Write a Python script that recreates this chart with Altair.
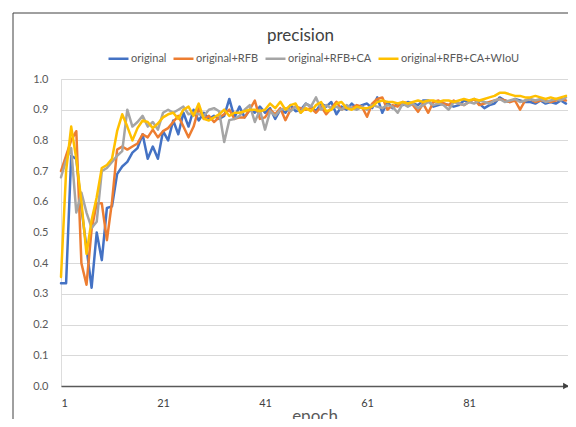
import altair as alt
import pandas as pd

epochs = list(range(1, 101))

series_names = ["original", "original+RFB", "original+RFB+CA", "original+RFB+CA+WIoU"]
series_colors = ["#4472C4", "#ED7D31", "#A5A5A5", "#FFC000"]

original = [
    0.335, 0.335, 0.75, 0.74, 0.58, 0.45, 0.32, 0.50, 0.41, 0.58,
    0.585, 0.69, 0.715, 0.73, 0.76, 0.775, 0.82, 0.74, 0.78, 0.74,
    0.83, 0.80, 0.865, 0.82, 0.89, 0.845, 0.90, 0.865, 0.89, 0.87,
    0.88, 0.87, 0.88, 0.935, 0.875, 0.91, 0.875, 0.90, 0.89, 0.91,
    0.89, 0.905, 0.87, 0.90, 0.89, 0.915, 0.895, 0.90, 0.92, 0.91,
    0.895, 0.92, 0.91, 0.925, 0.885, 0.91, 0.90, 0.92, 0.905, 0.915,
    0.92, 0.905, 0.94, 0.89, 0.925, 0.905, 0.92, 0.915, 0.925, 0.92,
    0.915, 0.93, 0.93, 0.91, 0.915, 0.92, 0.915, 0.91, 0.915, 0.93,
    0.925, 0.935, 0.92, 0.905, 0.915, 0.92, 0.94, 0.93, 0.925, 0.935,
    0.93, 0.925, 0.925, 0.92, 0.93, 0.92, 0.925, 0.92, 0.93, 0.92,
]

rfb = [
    0.70, 0.75, 0.80, 0.83, 0.40, 0.33, 0.51, 0.595, 0.595, 0.475,
    0.60, 0.77, 0.78, 0.77, 0.78, 0.79, 0.82, 0.81, 0.835, 0.81,
    0.83, 0.84, 0.86, 0.88, 0.845, 0.81, 0.845, 0.905, 0.87, 0.88,
    0.86, 0.875, 0.885, 0.90, 0.87, 0.875, 0.875, 0.90, 0.93, 0.87,
    0.875, 0.90, 0.885, 0.905, 0.866, 0.90, 0.91, 0.905, 0.90, 0.905,
    0.89, 0.91, 0.885, 0.905, 0.926, 0.90, 0.91, 0.905, 0.915, 0.91,
    0.877, 0.92, 0.935, 0.94, 0.90, 0.915, 0.91, 0.925, 0.92, 0.915,
    0.893, 0.92, 0.89, 0.925, 0.93, 0.92, 0.915, 0.93, 0.92, 0.915,
    0.925, 0.935, 0.915, 0.92, 0.925, 0.93, 0.935, 0.93, 0.925, 0.93,
    0.90, 0.93, 0.935, 0.925, 0.93, 0.93, 0.925, 0.93, 0.935, 0.93,
]

rfb_ca = [
    0.68, 0.735, 0.775, 0.565, 0.63, 0.565, 0.515, 0.535, 0.70, 0.71,
    0.73, 0.75, 0.765, 0.90, 0.845, 0.86, 0.88, 0.845, 0.86, 0.835,
    0.89, 0.90, 0.89, 0.90, 0.91, 0.885, 0.89, 0.885, 0.88, 0.90,
    0.905, 0.895, 0.795, 0.866, 0.87, 0.88, 0.90, 0.915, 0.86, 0.90,
    0.835, 0.895, 0.88, 0.90, 0.905, 0.895, 0.91, 0.89, 0.92, 0.91,
    0.94, 0.90, 0.915, 0.905, 0.91, 0.90, 0.915, 0.905, 0.90, 0.91,
    0.90, 0.915, 0.91, 0.905, 0.915, 0.91, 0.89, 0.92, 0.91, 0.92,
    0.905, 0.915, 0.925, 0.915, 0.92, 0.915, 0.90, 0.925, 0.92, 0.915,
    0.925, 0.92, 0.93, 0.925, 0.92, 0.93, 0.935, 0.925, 0.93, 0.935,
    0.925, 0.93, 0.935, 0.93, 0.935, 0.925, 0.93, 0.935, 0.93, 0.94,
]

rfb_ca_wiou = [
    0.355, 0.70, 0.845, 0.74, 0.60, 0.43, 0.54, 0.615, 0.71, 0.72,
    0.74, 0.83, 0.885, 0.845, 0.80, 0.84, 0.865, 0.86, 0.84, 0.855,
    0.875, 0.885, 0.89, 0.87, 0.90, 0.91, 0.88, 0.92, 0.87, 0.865,
    0.875, 0.885, 0.90, 0.88, 0.89, 0.89, 0.895, 0.90, 0.90, 0.895,
    0.90, 0.92, 0.905, 0.926, 0.90, 0.915, 0.92, 0.89, 0.905, 0.895,
    0.915, 0.925, 0.895, 0.90, 0.92, 0.925, 0.905, 0.90, 0.91, 0.905,
    0.905, 0.91, 0.925, 0.93, 0.925, 0.925, 0.92, 0.925, 0.92, 0.925,
    0.93, 0.925, 0.93, 0.93, 0.925, 0.93, 0.93, 0.925, 0.93, 0.935,
    0.93, 0.935, 0.93, 0.935, 0.94, 0.945, 0.955, 0.955, 0.95, 0.945,
    0.945, 0.94, 0.94, 0.945, 0.94, 0.935, 0.94, 0.935, 0.94, 0.945,
]

x_ticks = [1, 21, 41, 61, 81]
y_ticks = [0.0, 0.1, 0.2, 0.3, 0.4, 0.5, 0.6, 0.7, 0.8, 0.9, 1.0]

all_values = [original, rfb, rfb_ca, rfb_ca_wiou]
rows = []
for name, vals in zip(series_names, all_values):
    for e, v in zip(epochs, vals):
        rows.append({"epoch": e, "precision": v, "series": name})
df = pd.DataFrame(rows)

FONT = "Lato"
W, H = 507, 307

xs = alt.X("epoch:Q", scale=alt.Scale(domain=[1, 100.4], nice=False, zero=False),
           axis=alt.Axis(values=x_ticks, title="epoch", grid=False, ticks=False,
                         labelPadding=11, titlePadding=0, labelFontSize=11,
                         labelColor="#404040", titleFontSize=17, titleColor="#595959",
                         titleFontWeight="normal", domainColor="#595959", domainWidth=1.5,
                         labelFont=FONT, titleFont=FONT))
ys = alt.Y("precision:Q", scale=alt.Scale(domain=[0, 1.0], nice=False),
           axis=alt.Axis(values=y_ticks, format=".1f", title=None, domain=False,
                         ticks=False, labelPadding=13, labelFontSize=11,
                         labelColor="#595959", gridColor="#D9D9D9", gridWidth=1,
                         labelFont=FONT))
color = alt.Color("series:N",
                  scale=alt.Scale(domain=series_names, range=series_colors),
                  legend=alt.Legend(title=None, orient="none", direction="horizontal",
                                    legendX=46, legendY=-32, symbolType="stroke",
                                    symbolSize=400, symbolStrokeWidth=2.5,
                                    labelFontSize=11, labelColor="#595959",
                                    labelFont=FONT, columnPadding=1, labelOffset=1,
                                    padding=0))

layers = []
for name in series_names:
    layers.append(
        alt.Chart(df).transform_filter(alt.datum.series == name)
        .mark_line(strokeWidth=2.5, strokeJoin="round", strokeCap="round", clip=False)
        .encode(x=xs, y=ys, color=color)
    )

one = alt.Data(values=[{"a": 1}])
arrow = alt.Chart(one).mark_point(shape="triangle-right", filled=True, size=45,
                                  color="#404040", opacity=1).encode(
    x=alt.value(W - 2), y=alt.value(H))
border_left = alt.Chart(one).mark_rule(color="#404040", strokeWidth=1).encode(
    x=alt.value(-48), y=alt.value(-66), y2=alt.value(H + 33))
border_top = alt.Chart(one).mark_rule(color="#404040", strokeWidth=1).encode(
    x=alt.value(-48), x2=alt.value(W), y=alt.value(-66))

chart = alt.layer(*layers, arrow, border_left, border_top).properties(
    width=W, height=H,
    title=alt.Title("precision", fontSize=17, color="#404040", font=FONT,
                    fontWeight="normal", anchor="middle", frame="group",
                    dx=-14, offset=-32),
    autosize=alt.AutoSizeParams(type="none"),
    padding={"left": 53, "top": 71, "right": 0, "bottom": 33},
).configure_view(stroke=None).configure(background="white")

chart.save("out.html", embed_options={"renderer": "svg", "actions": False})
